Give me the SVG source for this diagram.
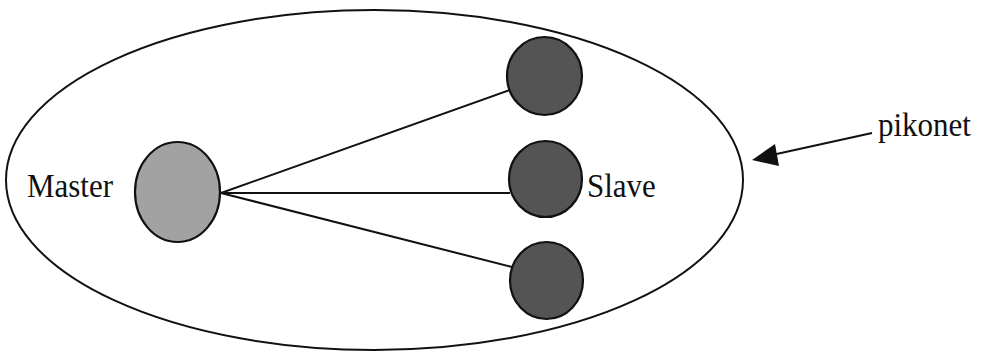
<svg xmlns="http://www.w3.org/2000/svg" width="983" height="351" viewBox="0 0 983 351">
<style>
.lbl{font-family:"Liberation Serif","Times New Roman",serif;font-size:31px;fill:#111}
.node{stroke:#111;stroke-width:2.2}
.conn{stroke:#111;stroke-width:2;fill:none}
</style>
<defs>
<marker id="ah" viewBox="0 0 10 10" refX="9" refY="5" markerWidth="11" markerHeight="10" markerUnits="userSpaceOnUse" orient="auto">
<path d="M0,0 L10,5 L0,10 z" fill="#111"/>
</marker>
</defs>
<rect width="983" height="351" fill="#fff"/>
<g id="piconet">
<ellipse cx="374.5" cy="180" rx="368.5" ry="170" fill="none" stroke="#111" stroke-width="2"/>
</g>
<g id="connectors">
<line class="conn" x1="221" y1="193" x2="510" y2="90"/>
<line class="conn" x1="221" y1="193" x2="510" y2="193"/>
<line class="conn" x1="221" y1="193" x2="512" y2="267"/>
<line x1="872" y1="133" x2="772" y2="155" stroke="#111" stroke-width="2"/>
<path d="M752,160 L775,144 L779,166 z" fill="#111"/>
</g>
<g id="master">
<ellipse class="node" cx="177.5" cy="192" rx="42.5" ry="50" fill="#a2a2a2"/>
<text class="lbl" x="27" y="197" transform="translate(0,197) scale(1,1.12) translate(0,-197)">Master</text>
</g>
<g id="slave1">
<ellipse class="node" cx="544.5" cy="76" rx="37.5" ry="39" fill="#545454"/>
</g>
<g id="slave2">
<ellipse class="node" cx="545.5" cy="179" rx="36.5" ry="38" fill="#545454"/>
<text class="lbl" x="587" y="197" transform="translate(0,197) scale(1,1.12) translate(0,-197)">Slave</text>
</g>
<g id="slave3">
<ellipse class="node" cx="546.5" cy="280.5" rx="36.5" ry="38.5" fill="#545454"/>
</g>
<g id="pikonet-label">
<text class="lbl" x="878" y="136" transform="translate(0,136) scale(1,1.12) translate(0,-136)">pikonet</text>
</g>
</svg>
